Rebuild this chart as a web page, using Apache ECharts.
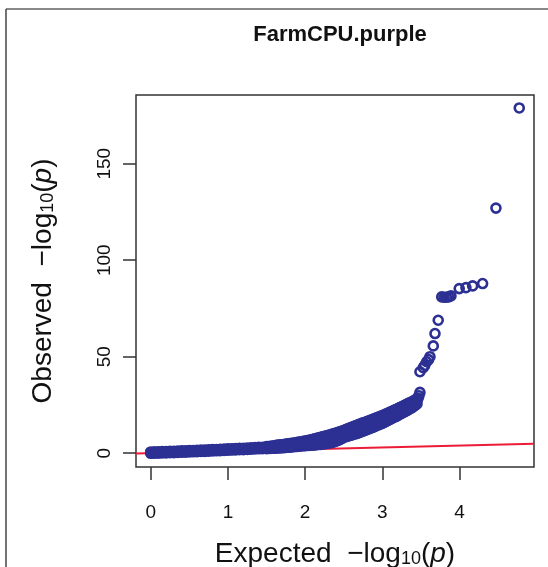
<!DOCTYPE html>
<html>
<head>
<meta charset="utf-8">
<script src="https://cdn.jsdelivr.net/npm/echarts@6/dist/echarts.min.js"></script>
<style>
html,body{margin:0;padding:0;background:#fff;}
#c{width:548px;height:567px;}
</style>
</head>
<body>
<div id="c"></div>
<script>
// ---- data ----
const chartTitle = 'FarmCPU.purple';
const xTicks = [0, 1, 2, 3, 4];
const yTicks = [0, 50, 100, 150];
const xRange = [-0.191, 4.966];
const yRange = [-7.14, 185.6];

// dense band of points, centre of the band (expected, observed)
const bandExpected = [
  0.000,0.025,0.050,0.075,0.100,0.125,0.150,0.175,0.200,0.225,
  0.250,0.275,0.300,0.325,0.350,0.375,0.400,0.425,0.450,0.475,
  0.500,0.525,0.550,0.575,0.600,0.625,0.650,0.675,0.700,0.725,
  0.750,0.775,0.800,0.825,0.850,0.875,0.900,0.925,0.950,0.975,
  1.000,1.025,1.050,1.075,1.100,1.125,1.150,1.175,1.200,1.225,
  1.250,1.275,1.300,1.325,1.350,1.375,1.400,1.425,1.450,1.475,
  1.500,1.525,1.550,1.575,1.600,1.625,1.650,1.675,1.700,1.725,
  1.750,1.775,1.800,1.825,1.850,1.875,1.900,1.925,1.950,1.975,
  2.000,2.025,2.050,2.075,2.100,2.125,2.150,2.175,2.200,2.225,
  2.250,2.275,2.300,2.325,2.350,2.375,2.400,2.425,2.450,2.475,
  2.500,2.525,2.550,2.575,2.600,2.625,2.650,2.675,2.700,2.725,
  2.750,2.775,2.800,2.825,2.850,2.875,2.900,2.925,2.950,2.975,
  3.000,3.025,3.050,3.075,3.100,3.125,3.150,3.175,3.200,3.225,
  3.250,3.275,3.300,3.325,3.350,3.375,3.400,3.425,3.450,3.465,
  3.475,3.488
];
const bandObserved = [
  0.30,0.33,0.36,0.39,0.42,0.45,0.48,0.51,0.54,0.57,
  0.60,0.64,0.68,0.72,0.76,0.80,0.84,0.88,0.92,0.96,
  1.00,1.04,1.08,1.12,1.16,1.20,1.24,1.28,1.32,1.36,
  1.40,1.45,1.50,1.55,1.60,1.65,1.70,1.75,1.80,1.85,
  1.90,1.94,1.98,2.02,2.06,2.10,2.14,2.18,2.22,2.26,
  2.30,2.36,2.42,2.48,2.54,2.60,2.66,2.72,2.78,2.84,
  2.90,2.98,3.06,3.15,3.24,3.33,3.42,3.52,3.62,3.72,
  3.82,3.93,4.05,4.17,4.29,4.42,4.55,4.68,4.82,4.96,
  5.10,5.27,5.44,5.62,5.80,6.00,6.20,6.40,6.60,6.85,
  7.10,7.35,7.60,7.87,8.15,8.42,8.70,9.02,9.35,9.67,
  10.00,10.35,10.70,11.05,11.40,11.75,12.10,12.45,12.80,13.17,
  13.55,13.92,14.30,14.70,15.10,15.50,15.90,16.30,16.70,17.10,
  17.50,17.97,18.45,18.92,19.40,19.87,20.35,20.82,21.30,21.82,
  22.35,22.87,23.40,23.92,24.45,24.97,25.50,26.20,27.00,28.50,
  29.80,31.50
];

// points along the upper and lower edges of the band, flat part
const flatEdgeExpected = [
  0.00,0.05,0.10,0.15,0.20,0.25,0.30,0.35,0.40,0.45,
  0.50,0.55,0.60,0.65,0.70,0.75,0.80,0.85,0.90,0.95,
  1.00,1.05,1.10,1.15,1.20,1.25,1.30,1.35,1.40,1.45
];
const flatUpperObserved = [
  0.65,0.71,0.77,0.83,0.89,0.95,1.03,1.11,1.19,1.27,
  1.35,1.43,1.51,1.59,1.67,1.75,1.85,1.95,2.05,2.15,
  2.25,2.33,2.41,2.49,2.57,2.65,2.77,2.89,3.01,3.13
];
const flatLowerObserved = [
  -0.05,0.01,0.07,0.13,0.19,0.25,0.33,0.41,0.49,0.57,
  0.65,0.73,0.81,0.89,0.97,1.05,1.15,1.25,1.35,1.45,
  1.55,1.63,1.71,1.79,1.87,1.95,2.07,2.19,2.28,2.36
];

// points along the upper and lower edges of the band, rising part
const riseEdgeExpected = [
  1.500,1.525,1.550,1.575,1.600,1.625,1.650,1.675,1.700,1.725,
  1.750,1.775,1.800,1.825,1.850,1.875,1.900,1.925,1.950,1.975,
  2.000,2.025,2.050,2.075,2.100,2.125,2.150,2.175,2.200,2.225,
  2.250,2.275,2.300,2.325,2.350,2.375,2.400,2.425,2.450,2.475,
  2.500,2.525,2.550,2.575,2.600,2.625,2.650,2.675,2.700,2.725,
  2.750,2.775,2.800,2.825,2.850,2.875,2.900,2.925,2.950,2.975,
  3.000,3.025,3.050,3.075,3.100,3.125,3.150,3.175,3.200,3.225,
  3.250,3.275,3.300,3.325,3.350,3.375,3.400,3.425,3.450
];
const riseUpperObserved = [
  3.40,3.50,3.60,3.75,3.90,4.05,4.20,4.30,4.40,4.55,
  4.70,4.85,5.00,5.15,5.30,5.45,5.60,5.78,5.95,6.12,
  6.30,6.50,6.70,6.95,7.20,7.45,7.70,7.95,8.20,8.50,
  8.80,9.05,9.30,9.60,9.90,10.20,10.50,10.82,11.15,11.48,
  11.80,12.20,12.60,13.00,13.40,13.80,14.20,14.60,15.00,15.35,
  15.70,16.05,16.40,16.80,17.20,17.60,18.00,18.35,18.70,19.10,
  19.50,19.95,20.40,20.85,21.30,21.75,22.20,22.65,23.10,23.60,
  24.10,24.60,25.10,25.60,26.10,26.55,27.00,27.60,28.30
];
const riseLowerObserved = [
  2.40,2.45,2.50,2.55,2.60,2.65,2.70,2.78,2.85,2.92,
  3.00,3.08,3.15,3.25,3.35,3.45,3.55,3.65,3.75,3.85,
  3.95,4.00,4.05,4.12,4.20,4.30,4.40,4.50,4.60,4.75,
  4.90,5.05,5.20,5.40,5.60,5.90,6.20,6.60,7.00,7.60,
  8.20,8.50,8.80,9.10,9.40,9.70,10.00,10.30,10.60,11.00,
  11.40,11.80,12.20,12.60,13.00,13.40,13.80,14.25,14.70,15.10,
  15.50,16.00,16.50,17.00,17.50,18.00,18.50,19.00,19.50,20.05,
  20.60,21.15,21.70,22.25,22.80,23.40,24.00,24.75,25.50
];

// sparse top points
const topExpected = [3.488,3.531,3.550,3.575,3.600,3.618,3.661,3.683,3.725,3.770,3.800,3.830,3.860,3.890,3.997,4.084,4.171,4.300,4.473,4.775];
const topObserved = [42.2,44.3,45.5,47.4,48.5,50.0,55.6,62.0,68.9,81.0,80.8,80.8,81.0,81.5,85.3,85.8,86.7,87.9,127.0,178.9];

// expected = observed reference line
const refLine = [[-0.191, -0.191], [4.966, 4.966]];

const pointColor = '#2D3093';
const lineColor = '#EC1C36';
const axisColor = '#333';
const font = 'Liberation Sans, Arial, Helvetica, sans-serif';

const points = [];
flatEdgeExpected.forEach((x, i) => { points.push([x, flatLowerObserved[i]]); points.push([x, flatUpperObserved[i]]); });
riseEdgeExpected.forEach((x, i) => { points.push([x, riseLowerObserved[i]]); points.push([x, riseUpperObserved[i]]); });
bandExpected.forEach((x, i) => points.push([x, bandObserved[i]]));
topExpected.forEach((x, i) => points.push([x, topObserved[i]]));

const chart = echarts.init(document.getElementById('c'), null, {renderer: 'canvas'});

const nameRich = {
  s: {fontSize: 18, fontFamily: font, color: '#111', verticalAlign: 'bottom', lineHeight: 18, padding: [16, 0, 0, 0]},
  i: {fontSize: 28, fontFamily: font, color: '#111', fontStyle: 'italic'},
  n: {fontSize: 28, fontFamily: font, color: '#111'}
};

chart.setOption({
  animation: false,
  backgroundColor: '#fff',
  title: {
    text: chartTitle,
    left: 335,
    top: 19,
    textAlign: 'center',
    textStyle: {fontFamily: font, fontWeight: 'bold', fontSize: 22, color: '#111'}
  },
  grid: {
    left: 136, right: 14, top: 95, bottom: 100,
    outerBoundsMode: 'none',
    containLabel: false,
    show: true, borderColor: axisColor, borderWidth: 1.5, backgroundColor: 'transparent'
  },
  xAxis: {
    type: 'value',
    min: xRange[0], max: xRange[1],
    axisLine: {show: false, onZero: false},
    splitLine: {show: false},
    axisTick: {show: true, inside: false, length: 13, customValues: xTicks, lineStyle: {color: axisColor, width: 1.5}},
    axisLabel: {customValues: xTicks, margin: 36, fontSize: 19, fontFamily: font, color: '#111'},
    name: '{n|Expected  \u2212log}{s|10}{n|(}{i|p}{n|)}',
    nameLocation: 'middle',
    nameGap: 73,
    nameTextStyle: {rich: nameRich, fontSize: 28, fontFamily: font, color: '#111'}
  },
  yAxis: {
    type: 'value',
    min: yRange[0], max: yRange[1],
    axisLine: {show: false, onZero: false},
    splitLine: {show: false},
    axisTick: {show: true, inside: false, length: 13, customValues: yTicks, lineStyle: {color: axisColor, width: 1.5}},
    axisLabel: {customValues: yTicks, rotate: 90, margin: 22, fontSize: 19, fontFamily: font, color: '#111'},
    name: '{n|Observed  \u2212log}{s|10}{n|(}{i|p}{n|)}',
    nameLocation: 'middle',
    nameGap: 79,
    nameTextStyle: {rich: nameRich, fontSize: 28, fontFamily: font, color: '#111'}
  },
  graphic: [
    {type: 'line', shape: {x1: 6, y1: 9, x2: 548, y2: 9}, style: {stroke: '#888', lineWidth: 2}, silent: true},
    {type: 'line', shape: {x1: 6, y1: 9, x2: 6, y2: 567}, style: {stroke: '#444', lineWidth: 1.5}, silent: true}
  ],
  series: [
    {
      type: 'line',
      data: refLine,
      symbol: 'none',
      lineStyle: {color: lineColor, width: 2},
      z: 1,
      silent: true
    },
    {
      type: 'scatter',
      data: points,
      symbol: 'circle',
      symbolSize: 9,
      large: false,
      itemStyle: {color: 'rgba(0,0,0,0)', borderColor: pointColor, borderWidth: 2.6, opacity: 1},
      z: 2,
      silent: true
    }
  ]
});
</script>
</body>
</html>
